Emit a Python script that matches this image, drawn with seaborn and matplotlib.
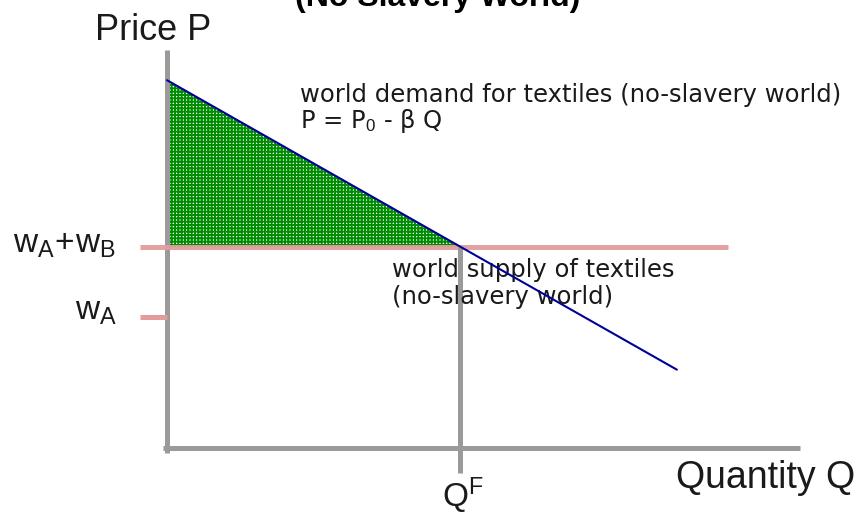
import matplotlib
matplotlib.use("Agg")
import matplotlib.pyplot as plt
import seaborn as sns

# values (quantity on x, price on y)
demand_q = [0.0, 17.4]
demand_p = [18.3, 3.9]
wage_ab = 10.0   # w_A + w_B (world supply price)
wage_a = 6.5     # w_A
q_free = 10.0    # Q^F
surplus_q = [0.0, q_free, 0.0]
surplus_p = [18.3, wage_ab, wage_ab]

green = "#008c00"

sns.set_theme(style="white")
plt.rcParams["font.family"] = ["Liberation Sans", "DejaVu Sans"]
plt.rcParams["mathtext.fontset"] = "custom"
plt.rcParams["mathtext.rm"] = "Liberation Sans"
plt.rcParams["mathtext.it"] = "Liberation Sans"
plt.rcParams["hatch.color"] = green
plt.rcParams["hatch.linewidth"] = 1.4

fig = plt.figure(figsize=(8.65, 5.16), dpi=100)
ax = fig.add_axes([0, 0, 1, 1])
ax.set_xlim(-5.70, 23.82)
ax.set_ylim(-3.38, 22.29)
ax.axis("off")

axis_col = "#9a9a9a"
pink = "#e29c9c"
txt = "#1a1a1a"
small = dict(ha="left", va="baseline", fontsize=17.5, color=txt,
             family=["DejaVu Sans"])

# surplus triangle: green grid with white holes
ax.fill(surplus_q, surplus_p, facecolor="white", edgecolor=green,
        hatch="+++++", linewidth=0, zorder=1)

# axes
ax.plot([0, 0], [-0.25, 19.8], color=axis_col, lw=3.6, solid_capstyle="butt", zorder=2)
ax.plot([-0.14, 21.6], [0, 0], color=axis_col, lw=3.6, solid_capstyle="butt", zorder=2)

# supply line and w_A tick
ax.plot([-0.92, 19.15], [wage_ab, wage_ab], color=pink, lw=3.6, solid_capstyle="butt", zorder=3, alpha=0.95)
ax.plot([-0.92, 0], [wage_a, wage_a], color=pink, lw=3.6, solid_capstyle="butt", zorder=3)
ax.plot([q_free, q_free], [wage_ab, -1.24], color=axis_col, lw=3.6, solid_capstyle="butt", zorder=3)

# demand
sns.lineplot(x=demand_q, y=demand_p, ax=ax, color="#000099", lw=1.5, zorder=4)

ax.text(9.25, 22.0, "(No Slavery World)", ha="center", va="baseline",
        fontsize=23, fontweight="bold", color="black")
ax.text(-2.46, 20.30, "Price P", ha="left", va="baseline", fontsize=26, color=txt)
ax.text(17.37, -1.99, "Quantity Q", ha="left", va="baseline", fontsize=27, color=txt)
ax.text(4.54, 17.21, "world demand for textiles (no-slavery world)", **small)
ax.text(4.54, 15.92, "P = P$_0$ - β Q", **small)
ax.text(7.68, 8.51, "world supply of textiles", **small)
ax.text(7.68, 7.16, "(no-slavery world)", **small)
ax.text(-5.26, 9.70, r"$\mathregular{w_A\!+\!w_B}$", ha="left", va="baseline",
        fontsize=24, color=txt)
ax.text(-3.14, 6.37, r"$\mathregular{w_A}$", ha="left", va="baseline",
        fontsize=24, color=txt)
ax.text(10.1, -2.95, r"$\mathregular{Q^F}$", ha="center", va="baseline",
        fontsize=24, color=txt)

fig.savefig("out.png", dpi=100)
